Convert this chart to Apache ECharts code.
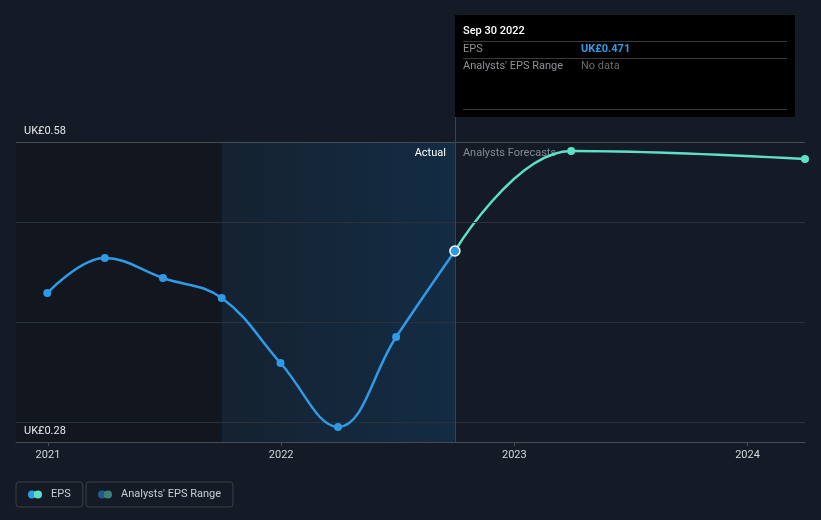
<!DOCTYPE html>
<html>
<head>
<meta charset="utf-8">
<script src="https://cdn.jsdelivr.net/npm/echarts@6/dist/echarts.min.js"></script>
<style>
html,body{margin:0;padding:0;background:#151b26;}
#chart{width:821px;height:520px;}
</style>
</head>
<body>
<div id="chart"></div>
<script>
// ---- data ----
const actualDates = ['2020-12-31','2021-03-31','2021-06-30','2021-09-30','2021-12-31','2022-03-31','2022-06-30','2022-09-30'];
const actualEps = [0.429, 0.464, 0.444, 0.424, 0.359, 0.295, 0.385, 0.471];
const forecastDates = ['2022-09-30','2023-03-31','2024-03-31'];
const forecastEps = [0.471, 0.571, 0.563];
const yLabelValues = [0.28, 0.58];
const gridValues = [0.30, 0.40, 0.50];
const xTickLabels = ['2021','2022','2023','2024'];
const pastEnd = '2021-09-30';
const selectedDate = '2022-09-30';
const tooltipTitle = 'Sep 30 2022';

const FONT = 'Roboto, "Noto Sans", sans-serif';
const ts = (d) => Date.UTC(+d.slice(0,4), +d.slice(5,7)-1, +d.slice(8,10));
const xMin = ts('2020-11-12'), xMax = ts('2024-03-31');
const yMin = 0.28, yTop = 0.58, yMax = 0.605;

const chart = echarts.init(document.getElementById('chart'), null, {renderer:'canvas'});

const actualData = actualDates.map((d,i)=>{
  const item = {value:[ts(d), actualEps[i]]};
  if (d === selectedDate) {
    item.symbolSize = 10;
    item.itemStyle = {borderColor:'#ffffff', borderWidth:1.5};
  }
  return item;
});
const forecastData = forecastDates.map((d,i)=>{
  const item = {value:[ts(d), forecastEps[i]]};
  if (i === 0) item.symbol = 'none';
  return item;
});
const selIdx = actualDates.indexOf(selectedDate);
const selVal = actualEps[selIdx];

const xTickTimes = xTickLabels.map(y => Date.UTC(+y, 0, 1));

const twoCircles = 'path://M0,4a4,4 0 1,0 8,0a4,4 0 1,0 -8,0Z M6,4a4,4 0 1,0 8,0a4,4 0 1,0 -8,0Z';
function split(c1, c2){
  return {type:'linear', x:0, y:0, x2:1, y2:0, colorStops:[
    {offset:0,color:c1},{offset:0.45,color:c1},{offset:0.45,color:c2},{offset:1,color:c2}]};
}

const yLabelLines = yLabelValues.map(v=>({
  yAxis:v,
  lineStyle:{color: v === yTop ? '#474c55' : 'rgba(0,0,0,0)', width:1, type:'solid'},
  label:{show:true, position:'insideStartTop', distance:[8,5], color:'#e6e7ea', fontSize:11, fontFamily:FONT,
    formatter:'UK£' + v.toFixed(2)}
}));

const option = {
  backgroundColor:'#151b26',
  animation:false,
  textStyle:{fontFamily:FONT},
  grid:{left:16, right:16, top:117, bottom:78, containLabel:false},
  xAxis:{
    type:'value', min:xMin, max:xMax,
    axisLine:{show:true, lineStyle:{color:'#464b55', width:1}},
    axisTick:{show:true, length:4, customValues:xTickTimes, lineStyle:{color:'#464b55'}},
    splitLine:{show:false},
    axisLabel:{customValues:xTickTimes, color:'#d4d6da', fontSize:11, margin:8, fontFamily:FONT,
      formatter:(v)=> String(new Date(v).getUTCFullYear())}
  },
  yAxis:{
    type:'value', min:yMin, max:yMax,
    axisLine:{show:false}, axisTick:{show:false}, splitLine:{show:false},
    axisLabel:{show:false}
  },
  legend:[
    {left:16, top:482, orient:'horizontal', padding:[7,12,7,12], borderColor:'#3a3f49', borderWidth:1, borderRadius:3,
     itemWidth:14, itemHeight:8, selectedMode:false,
     textStyle:{color:'#c9ccd2', fontSize:11, fontFamily:FONT, padding:[0,0,0,4]},
     data:[{name:'EPS', icon:twoCircles, itemStyle:{color:split('#2f9ae5','#5ce0c6')}}]},
    {left:86, top:482, orient:'horizontal', padding:[7,12,7,12], borderColor:'#3a3f49', borderWidth:1, borderRadius:3,
     itemWidth:14, itemHeight:8, selectedMode:false,
     textStyle:{color:'#c9ccd2', fontSize:11, fontFamily:FONT, padding:[0,0,0,4]},
     data:[{name:"Analysts' EPS Range", icon:twoCircles, itemStyle:{color:split('#21598a','#3c807a')}}]}
  ],
  series:[
    {
      name:'bg', type:'line', data:[], silent:true,
      markArea:{silent:true, data:[
        [{xAxis:xMin, yAxis:yTop, itemStyle:{color:'#12161e'}}, {xAxis:ts(pastEnd), yAxis:yMin}],
        [{xAxis:ts(pastEnd), yAxis:yTop, itemStyle:{color:{type:'linear',x:0,y:0,x2:1,y2:0,colorStops:[{offset:0,color:'#152231'},{offset:1,color:'#132c44'}]}},
          label:{show:true, position:'insideTopRight', distance:6, formatter:'Actual', color:'#ffffff', fontSize:11, fontFamily:FONT, padding:[0,3,0,0]}},
         {xAxis:ts(selectedDate), yAxis:yMin}],
        [{xAxis:ts(selectedDate), yAxis:yTop, itemStyle:{color:'rgba(0,0,0,0)'},
          label:{show:true, position:'insideTopLeft', distance:6, formatter:'Analysts Forecasts', color:'#858a94', fontSize:11, fontFamily:FONT, padding:[0,0,0,2]}},
         {xAxis:xMax, yAxis:yMin}]
      ]},
      markLine:{silent:true, symbol:'none', label:{show:false}, data:[
        ...gridValues.map(v=>({yAxis:v, lineStyle:{color:'#2b313b', width:1, type:'solid'}})),
        ...yLabelLines,
        {xAxis:ts(selectedDate), lineStyle:{color:'#2c4560', width:1, type:'solid'}}
      ]}
    },
    {
      name:'EPS', type:'line', data:actualData, smooth:0.4,
      symbol:'circle', symbolSize:8, showSymbol:true,
      lineStyle:{color:'#2f9ae5', width:2.5},
      itemStyle:{color:'#2f9ae5'}, z:5
    },
    {
      name:'EPS', type:'line', data:forecastData, smooth:0.4,
      symbol:'circle', symbolSize:8, showSymbol:true,
      lineStyle:{color:'#5ce0c6', width:2.5},
      itemStyle:{color:'#5ce0c6'}, z:4
    },
    {name:"Analysts' EPS Range", type:'line', data:[]}
  ],
  graphic:[
    {type:'group', left:455, top:15, children:[
      {type:'rect', shape:{x:0,y:0,width:340,height:102}, style:{fill:'#000000'}},
      {type:'text', x:8, y:16, style:{text:tooltipTitle, fill:'#ffffff', font:'500 11px '+FONT, textVerticalAlign:'middle'}},
      {type:'line', shape:{x1:8,y1:26.5,x2:332,y2:26.5}, style:{stroke:'#3a3a3a', lineWidth:1}},
      {type:'text', x:8, y:34, style:{text:'EPS', fill:'#8f9196', font:'11px '+FONT, textVerticalAlign:'middle'}},
      {type:'text', x:126, y:34, style:{text:'UK£' + selVal.toFixed(3), fill:'#2f9ae5', font:'bold 11px '+FONT, textVerticalAlign:'middle'}},
      {type:'line', shape:{x1:8,y1:43.5,x2:332,y2:43.5}, style:{stroke:'#3a3a3a', lineWidth:1}},
      {type:'text', x:8, y:51, style:{text:"Analysts' EPS Range", fill:'#8f9196', font:'11px '+FONT, textVerticalAlign:'middle'}},
      {type:'text', x:126, y:51, style:{text:'No data', fill:'#6a6c70', font:'11px '+FONT, textVerticalAlign:'middle'}},
      {type:'line', shape:{x1:8,y1:94.5,x2:332,y2:94.5}, style:{stroke:'#3a3a3a', lineWidth:1}}
    ]}
  ]
};
chart.setOption(option);
</script>
</body>
</html>
